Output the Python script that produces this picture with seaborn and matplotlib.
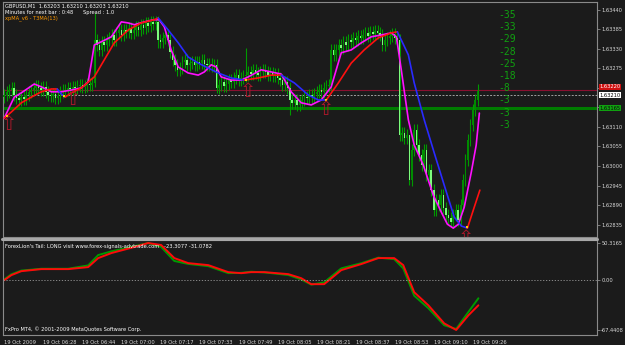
import matplotlib
matplotlib.use("Agg")
import matplotlib.pyplot as plt
import seaborn as sns
import numpy as np
import pandas as pd
from matplotlib.patches import Rectangle
from matplotlib.lines import Line2D

# ---------------- data ----------------
first_open = 1.63195
closes = [
    1.63200, 1.63209, 1.63214, 1.63220, 1.63200, 1.63192, 1.63186, 1.63194, 1.63189, 1.63200,
    1.63209, 1.63214, 1.63220, 1.63225, 1.63220, 1.63214, 1.63223, 1.63209, 1.63200, 1.63197,
    1.63203, 1.63192, 1.63197, 1.63209, 1.63214, 1.63214, 1.63220, 1.63217, 1.63223, 1.63220,
    1.63225, 1.63228, 1.63223, 1.63225, 1.63231, 1.63228, 1.63234, 1.63355, 1.63341, 1.63327,
    1.63350, 1.63341, 1.63355, 1.63361, 1.63369, 1.63355, 1.63375, 1.63383, 1.63369, 1.63383,
    1.63378, 1.63389, 1.63375, 1.63383, 1.63392, 1.63383, 1.63398, 1.63389, 1.63403, 1.63395,
    1.63406, 1.63400, 1.63406, 1.63355, 1.63350, 1.63361, 1.63369, 1.63355, 1.63321, 1.63299,
    1.63285, 1.63271, 1.63276, 1.63293, 1.63299, 1.63285, 1.63290, 1.63293, 1.63285, 1.63293,
    1.63290, 1.63299, 1.63288, 1.63285, 1.63288, 1.63282, 1.63285, 1.63220, 1.63228, 1.63237,
    1.63225, 1.63231, 1.63242, 1.63237, 1.63248, 1.63256, 1.63242, 1.63248, 1.63254, 1.63256,
    1.63265, 1.63259, 1.63271, 1.63262, 1.63256, 1.63265, 1.63271, 1.63265, 1.63256, 1.63262,
    1.63254, 1.63259, 1.63248, 1.63242, 1.63228, 1.63237, 1.63220, 1.63186, 1.63178, 1.63186,
    1.63172, 1.63180, 1.63186, 1.63194, 1.63192, 1.63200, 1.63194, 1.63203, 1.63209, 1.63214,
    1.63209, 1.63220, 1.63225, 1.63228, 1.63327, 1.63313, 1.63327, 1.63341, 1.63333, 1.63350,
    1.63341, 1.63355, 1.63350, 1.63361, 1.63355, 1.63367, 1.63361, 1.63369, 1.63375, 1.63367,
    1.63378, 1.63372, 1.63381, 1.63375, 1.63369, 1.63341, 1.63355, 1.63361, 1.63367, 1.63372,
    1.63361, 1.63355, 1.63087, 1.63093, 1.63079, 1.63087, 1.62960, 1.63045, 1.63101, 1.63059,
    1.63031, 1.63003, 1.63045, 1.62974, 1.62989, 1.62932, 1.62876, 1.62904, 1.62890, 1.62918,
    1.62881, 1.62862, 1.62853, 1.62842, 1.62862, 1.62876, 1.62848, 1.62890, 1.62960, 1.63017,
    1.63073, 1.63116, 1.63158, 1.63186, 1.63210,
]
high_idx = [37, 99, 166, 194]
high_val = [1.63431, 1.63333, 1.63073, 1.63232]
low_idx = [37, 63, 87, 117, 166, 183]
low_val = [1.63223, 1.63333, 1.63206, 1.63144, 1.62946, 1.62828]

# fast MA (magenta)
mag_idx = [0, 4.1, 7.0, 12.3, 15.2, 19.3, 23.4, 27.5, 31.6, 34.4, 35.7, 36.9, 39.8, 43.9, 48.0,
           50.8, 53.3, 57.4, 61.1, 63.5, 65.6, 68.4, 71.3, 75.4, 79.5, 82.0, 84.8, 86.9, 88.9,
           93.0, 97.1, 100.0, 105.3, 109.4, 113.5, 117.6, 121.7, 125.8, 129.9, 134.0, 138.1,
           142.2, 146.3, 150.4, 154.5, 158.6, 160.7, 162.7, 165.6, 168.0, 171.7, 175.8, 179.1,
           181.6, 184.0, 186.1, 188.5, 191.4, 193.4, 194.7]
mag_val = [1.63135, 1.63194, 1.63206, 1.63231, 1.63223, 1.63209, 1.63209, 1.63214, 1.63220,
           1.63237, 1.63290, 1.63341, 1.63350, 1.63364, 1.63406, 1.63403, 1.63398, 1.63406,
           1.63412, 1.63412, 1.63392, 1.63327, 1.63279, 1.63262, 1.63256, 1.63265, 1.63285,
           1.63279, 1.63251, 1.63242, 1.63242, 1.63251, 1.63271, 1.63265, 1.63259, 1.63209,
           1.63178, 1.63172, 1.63186, 1.63223, 1.63319, 1.63327, 1.63347, 1.63364, 1.63369,
           1.63375, 1.63364, 1.63271, 1.63130, 1.63059, 1.63003, 1.62918, 1.62870, 1.62836,
           1.62825, 1.62836, 1.62884, 1.62983, 1.63059, 1.63149]

# T3MA (red when rising, blue when falling)
tma_idx = [0, 2.9, 7.0, 11.1, 15.2, 19.3, 21.7, 23.4, 25.0, 27.5, 31.6, 36.9, 41.0, 45.1, 50.8,
           56.1, 61.5, 63.1, 67.2, 71.3, 75.4, 79.5, 83.6, 87.7, 93.0, 98.4, 104.1, 109.4, 113.5,
           118.9, 124.6, 128.7, 132.0, 136.9, 142.2, 147.5, 153.3, 158.6, 161.1, 162.7, 165.6,
           168.0, 172.1, 176.2, 180.3, 184.4, 187.3, 189.8, 192.6, 194.9]
tma_val = [1.63135, 1.63152, 1.63178, 1.63194, 1.63209, 1.63217, 1.63217, 1.63203, 1.63194,
           1.63206, 1.63220, 1.63251, 1.63299, 1.63347, 1.63383, 1.63403, 1.63412, 1.63417,
           1.63383, 1.63347, 1.63307, 1.63290, 1.63276, 1.63262, 1.63248, 1.63242, 1.63248,
           1.63256, 1.63256, 1.63234, 1.63200, 1.63186, 1.63186, 1.63234, 1.63290, 1.63327,
           1.63361, 1.63375, 1.63378, 1.63355, 1.63313, 1.63234, 1.63130, 1.63037, 1.62946,
           1.62856, 1.62831, 1.62825, 1.62884, 1.62932]
tma_dir = ['up'] * 6 + ['down'] * 2 + ['up'] * 9 + ['down'] * 8 + ['up'] * 3 + \
          ['down'] * 4 + ['up'] * 6 + ['down'] * 9 + ['up'] * 3

arrow_idx = [1.7, 28.3, 100.0, 132.0, 189.3]
arrow_val = [1.63116, 1.63186, 1.63209, 1.63158, 1.62797]
dot_idx = [1, 24.5, 99, 132, 189.5]
dot_val = [1.63140, 1.63196, 1.63242, 1.63186, 1.62828]

signal_labels = ["-35", "-33", "-29", "-28", "-25", "-18", "-8", "-3", "-3", "-3"]

price_ticks = [1.63440, 1.63385, 1.63330, 1.63275, 1.63220, 1.63165, 1.63110, 1.63055,
               1.63000, 1.62945, 1.62890, 1.62835]
red_line = 1.63214
bid_line = 1.63200
green_line = 1.63163

osc_idx = [0, 2.9, 7.0, 15.2, 26.2, 34.4, 38.5, 43.9, 53.3, 59.0, 64.3, 69.7, 75.4, 83.6, 91.8,
           97.1, 101.2, 106.6, 116.4, 121.7, 125.8, 131.1, 138.1, 146.3, 153.3, 159.8, 163.5,
           168.0, 173.8, 180.3, 185.2, 190.2, 194.3]
osc_red = [0, 6.8, 12.2, 15.0, 15.0, 17.7, 29.9, 36.7, 44.9, 50.3, 47.6, 29.9, 23.1, 20.4, 10.9,
           9.5, 10.9, 10.9, 8.2, 2.7, -5.4, -5.4, 13.6, 21.8, 29.9, 29.9, 20.4, -16.3, -34.0,
           -58.5, -67.4, -47.6, -34.0]
osc_green = [1, 8, 13, 15.5, 15.5, 20, 34, 39, 46, 50.3, 45, 26, 22, 19, 9.5, 10, 11.5, 10.5, 7,
             1, -6, -3, 16, 23, 30.5, 28.5, 16, -21, -38, -61, -66, -43, -24.5]

time_idx = [0, 16, 32, 48, 64, 80, 96, 112, 128, 144, 160, 176, 192]
time_labels = ["19 Oct 2009", "19 Oct 06:28", "19 Oct 06:44", "19 Oct 07:00", "19 Oct 07:17",
               "19 Oct 07:33", "19 Oct 07:49", "19 Oct 08:05", "19 Oct 08:21", "19 Oct 08:37",
               "19 Oct 08:53", "19 Oct 09:10", "19 Oct 09:26"]

# ---------------- style ----------------
BG = '#1b1b1b'
FRAME = '#8a8a8a'
sns.set_theme(style='dark', rc={'axes.facecolor': BG, 'figure.facecolor': BG})
plt.rcParams['font.family'] = ['DejaVu Sans']
SMALL = 3.7

fig = plt.figure(figsize=(6.25, 3.45), dpi=100)
W, H = 625, 345
ax1 = fig.add_axes([3 / W, 1 - 237 / H, 594 / W, 235 / H])
ax2 = fig.add_axes([3 / W, 1 - 335 / H, 594 / W, 95 / H])
xmax = 242.9
for ax in (ax1, ax2):
    ax.set_facecolor(BG)
    ax.set_xlim(-0.5, xmax)
    for s in ax.spines.values():
        s.set_color(FRAME)
        s.set_linewidth(0.8)
    ax.grid(False)

# ---------------- candles ----------------
n = len(closes)
opens = [first_open] + closes[:-1]
highs = [max(o, c) + 0.00017 for o, c in zip(opens, closes)]
lows = [min(o, c) - 0.00017 for o, c in zip(opens, closes)]
for i, v in zip(high_idx, high_val):
    highs[i] = v
for i, v in zip(low_idx, low_val):
    lows[i] = v
df = pd.DataFrame({'i': np.arange(n), 'open': opens, 'close': closes, 'high': highs, 'low': lows})
ax1.vlines(df['i'], df['low'], df['high'], color='#009a00', lw=0.8, zorder=3)
bw = 0.66
for r in df.itertuples():
    bull = r.close >= r.open
    lo = min(r.open, r.close)
    h = max(abs(r.close - r.open), 0.000015)
    ax1.add_patch(Rectangle((r.i - bw / 2, lo), bw, h, facecolor='#008c00' if bull else '#7cfc7c',
                            edgecolor='none', zorder=4))

# ---------------- horizontal lines ----------------
ax1.axhline(red_line, color='#8a1030', lw=0.8, zorder=2)
ax1.axhline(bid_line, color='#a0a0a0', lw=0.7, ls=(0, (2, 1.5)), zorder=2)
ax1.axhline(green_line, color='#007c00', lw=2.2, zorder=2)

# ---------------- indicators ----------------
sns.lineplot(x=mag_idx, y=mag_val, ax=ax1, color='#ff10ff', lw=1.2, zorder=6, estimator=None)
tma = pd.DataFrame({'i': tma_idx, 'v': tma_val, 'd': tma_dir})
groups = {}
seg = 0
for k in range(len(tma) - 1):
    if k > 0 and tma_dir[k] != tma_dir[k - 1]:
        seg += 1
    groups.setdefault(seg, []).append(k)
for s, ks in groups.items():
    sub = tma.iloc[ks + [ks[-1] + 1]]
    col = '#ff1010' if tma_dir[ks[0]] == 'up' else '#2a2aff'
    sns.lineplot(x=sub['i'].values, y=sub['v'].values, ax=ax1, color=col, lw=1.2, zorder=7,
                 estimator=None, sort=False)
ax1.scatter(dot_idx, dot_val, s=3, marker='s', color='#ffd000', zorder=8, linewidths=0)
for xi, yv in zip(arrow_idx, arrow_val):
    ax1.text(xi, yv, '\u21e7', color='#a8182a', fontsize=14, ha='center', va='center',
             zorder=9, clip_on=True)

ax1.set_ylim(1.62800, 1.63462)
ax1.set_yticks(price_ticks)
ax1.set_yticklabels(['' if p in (1.63220, 1.63165) else f"{p:.5f}" for p in price_ticks])
ax1.yaxis.tick_right()
ax1.tick_params(axis='y', length=2, width=0.6, color=FRAME, labelsize=SMALL, labelcolor='#d8d8d8', pad=1)
ax1.set_xticks([])
ax1.set_xlabel('')
ax1.set_ylabel('')

# right price boxes
tr = ax1.get_yaxis_transform()
ax1.text(1.004, red_line + 0.00009, '1.63220', transform=tr, fontsize=SMALL, color='white',
         va='center', ha='left', bbox=dict(boxstyle='square,pad=0.12', fc='#d01010', ec='none'))
ax1.text(1.004, bid_line - 0.00001, '1.63210', transform=tr, fontsize=SMALL, color='black',
         va='center', ha='left', bbox=dict(boxstyle='square,pad=0.12', fc='white', ec='none'))
ax1.text(1.004, green_line, '1.63165', transform=tr, fontsize=SMALL, color='#0a0a0a',
         va='center', ha='left', bbox=dict(boxstyle='square,pad=0.12', fc='#10a010', ec='none'))

# signal column
for k, s in enumerate(signal_labels):
    fig.text(498 / W, 1 - (15 + 12.2 * k) / H, s, color='#10a010', fontsize=7,
             family='DejaVu Sans Mono', va='center', ha='left')

# header texts
fig.text(5 / W, 1 - 6.5 / H, 'GBPUSD,M1  1.63203 1.63210 1.63203 1.63210', color='white',
         fontsize=SMALL, va='center')
fig.text(5 / W, 1 - 12.5 / H, 'Minutes for next bar : 0:48      Spread : 1.0', color='white',
         fontsize=SMALL, va='center')
fig.text(5 / W, 1 - 18.5 / H, 'xpMA_v6 - T3MA(13)', color='#ff9a00', fontsize=SMALL, va='center')

# ---------------- oscillator ----------------
sns.lineplot(x=osc_idx, y=osc_green, ax=ax2, color='#009a00', lw=1.4, estimator=None)
sns.lineplot(x=osc_idx, y=osc_red, ax=ax2, color='#ff0a0a', lw=1.4, estimator=None)
ax2.axhline(0, color='#9a9a9a', lw=0.6, ls=(0, (1.5, 2)))
ax2.set_ylim(-74.2, 54.4)
ax2.set_yticks([50.3165, 0, -67.4408])
ax2.set_yticklabels(['50.3165', '0.00', '-67.4408'])
ax2.yaxis.tick_right()
ax2.tick_params(axis='y', length=2, width=0.6, color=FRAME, labelsize=SMALL, labelcolor='#d8d8d8', pad=1)
ax2.set_xticks(time_idx)
ax2.set_xticklabels(time_labels, ha='left')
ax2.tick_params(axis='x', length=2, width=0.6, color=FRAME, labelsize=SMALL, labelcolor='#d8d8d8', pad=1.5)
ax2.set_xlabel('')
ax2.set_ylabel('')
ax2.text(0.003, 0.96, "ForexLion's Tail: LONG visit www.forex-signals-advtrade.com   -23.3077 -31.0782",
         transform=ax2.transAxes, color='white', fontsize=SMALL, va='top', ha='left')
ax2.text(0.003, 0.03, 'FxPro MT4, \u00a9 2001-2009 MetaQuotes Software Corp.',
         transform=ax2.transAxes, color='white', fontsize=SMALL, va='bottom', ha='left')

# separator between panels
fig.add_artist(Line2D([2 / W, 597 / W], [1 - 238.5 / H, 1 - 238.5 / H], color='#a8a8a8', lw=2.2))

fig.savefig('out.png', dpi=100, facecolor=BG)
